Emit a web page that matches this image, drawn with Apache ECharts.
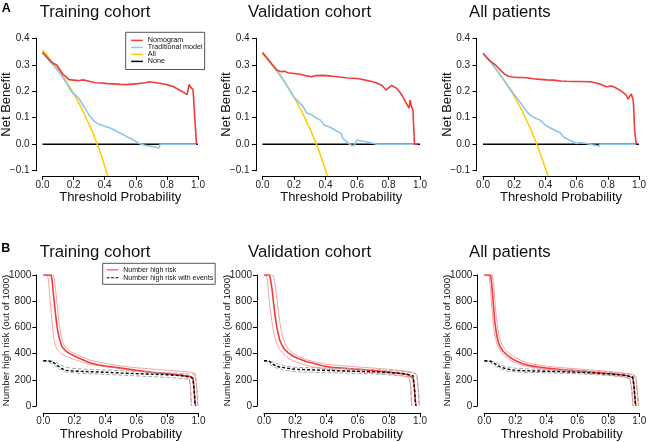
<!DOCTYPE html>
<html><head><meta charset="utf-8">
<script src="https://cdn.jsdelivr.net/npm/echarts@6/dist/echarts.min.js"></script>
<style>html,body{margin:0;padding:0;background:#fff}#c{width:649px;height:442px}</style>
</head><body><div id="c"></div>
<script>
// ---------- labels / ticks ----------
const panelTitles = ['Training cohort', 'Validation cohort', 'All patients'];
const rowLabels = ['A', 'B'];
const xTicks = [0, 0.2, 0.4, 0.6, 0.8, 1.0];
const yTicksA = [-0.1, 0, 0.1, 0.2, 0.3, 0.4];
const yTicksB = [0, 200, 400, 600, 800, 1000];
const legendA = ['Nomogram', 'Traditional model', 'All', 'None'];
const legendB = ['Number high risk', 'Number high risk with events'];

// ---------- A: decision curves ----------
const noneLine = [[0, 0], [1, 0]];

const trainNomogram = [[0,0.347],[0.02,0.335],[0.05,0.314],[0.07,0.305],[0.09,0.300],[0.11,0.283],[0.13,0.265],[0.15,0.255],[0.17,0.244],[0.2,0.242],[0.23,0.240],[0.26,0.243],[0.3,0.238],[0.34,0.232],[0.38,0.231],[0.42,0.229],[0.46,0.228],[0.5,0.226],[0.54,0.225],[0.58,0.227],[0.62,0.229],[0.66,0.232],[0.69,0.236],[0.72,0.233],[0.76,0.229],[0.8,0.225],[0.84,0.218],[0.88,0.205],[0.91,0.195],[0.93,0.187],[0.937,0.184],[0.943,0.226],[0.953,0.215],[0.968,0.207],[0.99,0.0]];
const trainTraditional = [[0,0.345],[0.03,0.325],[0.06,0.305],[0.1,0.277],[0.14,0.244],[0.18,0.205],[0.2,0.19],[0.22,0.182],[0.24,0.167],[0.26,0.148],[0.28,0.129],[0.3,0.11],[0.33,0.088],[0.36,0.076],[0.4,0.068],[0.44,0.06],[0.48,0.048],[0.52,0.036],[0.55,0.026],[0.58,0.018],[0.62,0.003],[0.66,-0.004],[0.7,-0.008],[0.75,-0.014],[0.756,0],[0.99,0]];
const trainAll = [[0,0.355],[0.05,0.32],[0.1,0.282],[0.15,0.24],[0.2,0.192],[0.25,0.137],[0.3,0.075],[0.325,0.041],[0.35,0.003],[0.375,-0.037],[0.4,-0.082],[0.42,-0.12]];

const valNomogram = [[0,0.346],[0.03,0.325],[0.06,0.302],[0.09,0.28],[0.1,0.278],[0.12,0.274],[0.14,0.276],[0.16,0.27],[0.2,0.267],[0.24,0.264],[0.28,0.258],[0.31,0.255],[0.34,0.259],[0.38,0.26],[0.42,0.258],[0.46,0.256],[0.5,0.253],[0.54,0.25],[0.58,0.249],[0.62,0.246],[0.66,0.241],[0.7,0.236],[0.73,0.23],[0.76,0.221],[0.785,0.205],[0.8,0.213],[0.82,0.222],[0.85,0.212],[0.87,0.198],[0.89,0.18],[0.91,0.158],[0.93,0.136],[0.937,0.167],[0.945,0.143],[0.955,0.13],[0.962,0.04],[0.965,0],[0.985,0]];
const valTraditional = [[0,0.346],[0.03,0.325],[0.06,0.302],[0.09,0.28],[0.12,0.255],[0.16,0.216],[0.2,0.178],[0.23,0.16],[0.26,0.14],[0.28,0.118],[0.31,0.112],[0.34,0.1],[0.37,0.09],[0.39,0.073],[0.43,0.064],[0.47,0.05],[0.5,0.04],[0.51,0.022],[0.54,0.006],[0.56,-0.003],[0.58,-0.006],[0.59,-0.004],[0.6,0.016],[0.65,0.01],[0.7,0.004],[0.726,0],[0.965,0]];
const valAll = [[0,0.342],[0.05,0.307],[0.1,0.269],[0.15,0.226],[0.2,0.178],[0.25,0.123],[0.3,0.06],[0.325,0.025],[0.35,-0.012],[0.375,-0.053],[0.4,-0.097],[0.4125,-0.12]];

const allNomogram = [[0,0.343],[0.02,0.33],[0.047,0.314],[0.079,0.3],[0.1,0.287],[0.121,0.274],[0.142,0.263],[0.164,0.257],[0.19,0.254],[0.217,0.252],[0.25,0.252],[0.281,0.251],[0.32,0.247],[0.366,0.245],[0.41,0.243],[0.451,0.242],[0.5,0.239],[0.536,0.238],[0.58,0.237],[0.62,0.237],[0.685,0.236],[0.72,0.232],[0.749,0.227],[0.77,0.222],[0.79,0.217],[0.823,0.22],[0.85,0.213],[0.877,0.204],[0.9,0.195],[0.919,0.185],[0.93,0.17],[0.94,0.18],[0.951,0.19],[0.962,0.167],[0.966,0.14],[0.972,0.05],[0.983,0]];
const allTraditional = [[0,0.343],[0.03,0.322],[0.057,0.305],[0.1,0.27],[0.15,0.228],[0.2,0.188],[0.23,0.165],[0.26,0.141],[0.28,0.124],[0.302,0.11],[0.33,0.1],[0.366,0.091],[0.39,0.078],[0.408,0.069],[0.43,0.062],[0.46,0.053],[0.494,0.043],[0.515,0.028],[0.557,0.015],[0.6,0.003],[0.62,0.006],[0.664,0.003],[0.7,-0.002],[0.728,-0.005],[0.745,-0.008],[0.748,0],[0.98,0]];
const allAll = [[0,0.345],[0.05,0.31],[0.1,0.272],[0.15,0.229],[0.2,0.181],[0.25,0.127],[0.3,0.064],[0.325,0.03],[0.35,-0.008],[0.375,-0.048],[0.4,-0.092],[0.418,-0.12]];

// ---------- B: clinical impact curves ----------
const trainHigh = [[0,1000],[0.05,1000],[0.055,975],[0.06,920],[0.07,800],[0.08,690],[0.09,590],[0.1,530],[0.11,490],[0.12,455],[0.14,425],[0.17,400],[0.2,382],[0.25,355],[0.3,330],[0.35,315],[0.4,305],[0.5,290],[0.6,272],[0.7,258],[0.8,247],[0.9,234],[0.95,224],[0.965,212],[0.972,120],[0.978,20],[0.982,0]];
const trainHighUp = [[0,1000],[0.064,1000],[0.07,980],[0.08,880],[0.09,760],[0.1,650],[0.11,560],[0.12,505],[0.13,470],[0.15,440],[0.18,412],[0.22,390],[0.27,365],[0.3,350],[0.4,325],[0.5,305],[0.6,292],[0.7,282],[0.8,272],[0.9,263],[0.95,258],[0.98,248],[0.99,120],[0.996,0]];
const trainHighLo = [[0,1000],[0.028,1000],[0.035,940],[0.045,800],[0.055,660],[0.065,540],[0.075,470],[0.09,430],[0.12,395],[0.16,372],[0.2,355],[0.25,335],[0.3,318],[0.4,300],[0.5,285],[0.6,270],[0.7,255],[0.8,244],[0.9,230],[0.94,212],[0.948,150],[0.953,20],[0.956,0]];
const trainEvents = [[0,345],[0.03,345],[0.05,340],[0.07,328],[0.09,310],[0.11,293],[0.13,280],[0.15,272],[0.2,266],[0.3,262],[0.4,258],[0.5,252],[0.6,247],[0.7,243],[0.8,238],[0.9,230],[0.95,222],[0.965,205],[0.972,120],[0.978,20],[0.982,0]];
const trainEventsUp = [[0,345],[0.05,344],[0.08,335],[0.11,315],[0.14,298],[0.18,288],[0.25,282],[0.35,277],[0.5,270],[0.6,264],[0.7,258],[0.8,253],[0.9,247],[0.96,244],[0.98,235],[0.99,120],[0.996,0]];
const trainEventsLo = [[0,345],[0.03,340],[0.06,320],[0.09,295],[0.12,272],[0.15,258],[0.2,252],[0.3,247],[0.4,242],[0.5,236],[0.6,230],[0.7,224],[0.8,218],[0.9,210],[0.94,204],[0.948,150],[0.953,20],[0.956,0]];

const valHigh = [[0,1000],[0.034,1000],[0.04,980],[0.053,880],[0.06,800],[0.07,700],[0.08,615],[0.092,546],[0.1,505],[0.113,470],[0.13,435],[0.156,405],[0.19,378],[0.22,362],[0.27,340],[0.327,323],[0.38,305],[0.434,295],[0.54,285],[0.647,277],[0.754,264],[0.86,251],[0.925,238],[0.955,213],[0.963,150],[0.97,40],[0.974,0]];
const valHighUp = [[0,1000],[0.06,1000],[0.068,960],[0.08,850],[0.09,740],[0.1,650],[0.11,580],[0.12,525],[0.135,475],[0.15,445],[0.18,405],[0.22,378],[0.27,355],[0.33,336],[0.4,318],[0.5,307],[0.6,298],[0.7,290],[0.8,280],[0.9,268],[0.95,258],[0.98,240],[0.99,120],[0.996,0]];
const valHighLo = [[0,1000],[0.015,1000],[0.022,950],[0.03,850],[0.04,740],[0.05,650],[0.06,580],[0.07,520],[0.085,470],[0.1,432],[0.13,390],[0.16,362],[0.2,338],[0.25,318],[0.3,302],[0.4,282],[0.5,270],[0.6,262],[0.7,253],[0.8,243],[0.88,232],[0.93,218],[0.94,160],[0.945,40],[0.948,0]];
const valEvents = [[0,345],[0.03,345],[0.045,330],[0.06,318],[0.08,305],[0.1,298],[0.15,288],[0.2,280],[0.3,276],[0.4,272],[0.5,268],[0.6,265],[0.7,262],[0.8,256],[0.9,246],[0.955,232],[0.963,160],[0.97,40],[0.974,0]];
const valEventsUp = [[0,345],[0.04,342],[0.07,330],[0.1,318],[0.15,302],[0.2,295],[0.3,292],[0.4,290],[0.5,286],[0.6,282],[0.7,278],[0.8,272],[0.9,263],[0.96,252],[0.98,235],[0.99,100],[0.996,0]];
const valEventsLo = [[0,345],[0.02,335],[0.04,315],[0.07,295],[0.1,282],[0.13,272],[0.2,262],[0.3,258],[0.4,255],[0.5,252],[0.6,249],[0.7,245],[0.8,238],[0.88,230],[0.93,220],[0.94,160],[0.945,40],[0.948,0]];

const allHigh = [[0,1000],[0.04,1000],[0.048,930],[0.058,780],[0.068,640],[0.08,540],[0.09,490],[0.1,456],[0.12,420],[0.144,392],[0.17,368],[0.21,341],[0.25,322],[0.295,308],[0.35,298],[0.4,290],[0.51,277],[0.617,269],[0.725,256],[0.832,246],[0.918,233],[0.958,215],[0.966,150],[0.973,40],[0.978,0]];
const allHighUp = [[0,1000],[0.052,1000],[0.06,930],[0.07,780],[0.08,650],[0.092,550],[0.103,500],[0.115,465],[0.135,432],[0.16,402],[0.19,378],[0.23,352],[0.27,333],[0.32,318],[0.4,303],[0.5,292],[0.6,284],[0.7,274],[0.8,264],[0.9,252],[0.96,240],[0.978,225],[0.99,80],[0.996,0]];
const allHighLo = [[0,1000],[0.03,1000],[0.037,930],[0.047,780],[0.057,640],[0.068,540],[0.08,480],[0.09,447],[0.11,410],[0.13,382],[0.16,356],[0.2,330],[0.25,310],[0.3,297],[0.4,280],[0.5,268],[0.6,258],[0.7,247],[0.8,237],[0.9,224],[0.94,208],[0.952,120],[0.958,20],[0.961,0]];
const allEvents = [[0,345],[0.04,342],[0.06,330],[0.08,312],[0.1,300],[0.13,288],[0.16,280],[0.2,272],[0.3,268],[0.4,265],[0.5,262],[0.6,258],[0.7,253],[0.8,245],[0.9,235],[0.958,222],[0.966,150],[0.973,40],[0.978,0]];
const allEventsUp = [[0,345],[0.05,342],[0.08,328],[0.11,312],[0.15,298],[0.2,288],[0.3,282],[0.4,278],[0.5,274],[0.6,270],[0.7,265],[0.8,258],[0.9,248],[0.96,240],[0.98,200],[0.99,60],[0.996,0]];
const allEventsLo = [[0,345],[0.03,338],[0.05,322],[0.08,298],[0.11,280],[0.14,268],[0.2,260],[0.3,256],[0.4,253],[0.5,250],[0.6,246],[0.7,240],[0.8,233],[0.9,222],[0.94,208],[0.952,120],[0.958,20],[0.961,0]];

// ---------- build ----------
const FONT = "'Liberation Sans', Arial, Helvetica, sans-serif";
const RED = '#f03c3c', RED_LIGHT = '#f7a3a3', BLUE = '#8cc6ec', GOLD = '#ffcc00', GREY = '#a8a8a8';
const DASH_ICON = 'path://M0 0H3V1H0Z M4.5 0H7.5V1H4.5Z M9 0H12V1H9Z';

const dcaSets = [
  {nom: trainNomogram, trad: trainTraditional, all: trainAll},
  {nom: valNomogram, trad: valTraditional, all: valAll},
  {nom: allNomogram, trad: allTraditional, all: allAll}
];
const cicSets = [
  {h: trainHigh, hu: trainHighUp, hl: trainHighLo, e: trainEvents, eu: trainEventsUp, el: trainEventsLo},
  {h: valHigh, hu: valHighUp, hl: valHighLo, e: valEvents, eu: valEventsUp, el: valEventsLo},
  {h: allHigh, hu: allHighUp, hl: allHighLo, e: allEvents, eu: allEventsUp, el: allEventsLo}
];

const gridA = [{left:42.5, width:155.5}, {left:262.5, width:157.5}, {left:483, width:156}];
const gridB = [{left:43.3, width:155.2}, {left:264, width:156}, {left:484.3, width:155}];
const titleLeft = [39.7, 248, 469];

const grids = [], xAxes = [], yAxes = [], series = [], titles = [];
const fmt1 = v => (v < 0 ? '\u2212' : '') + Math.abs(v).toFixed(1);

function addAxes(idx, yTicks, yName, yNameSize, yNameGap, yMargin, xOffset, yOffset, xMargin, xNameGap, yFmt) {
  xAxes.push({
    type: 'value', gridIndex: idx, min: xTicks[0], max: xTicks[xTicks.length - 1],
    interval: xTicks[1] - xTicks[0], offset: xOffset,
    axisLine: {show: true, onZero: false, lineStyle: {color: '#000', width: 1}},
    axisTick: {show: true, length: 4, lineStyle: {color: '#000', width: 1}},
    axisLabel: {fontSize: 10, color: '#222', margin: xMargin, formatter: fmt1, fontFamily: FONT},
    splitLine: {show: false},
    name: 'Threshold Probability', nameLocation: 'middle', nameGap: xNameGap, nameMoveOverlap: false,
    nameTextStyle: {fontSize: 13, color: '#111', fontFamily: FONT}
  });
  yAxes.push({
    type: 'value', gridIndex: idx, min: yTicks[0], max: yTicks[yTicks.length - 1],
    interval: yTicks[1] - yTicks[0], offset: yOffset,
    axisLine: {show: true, onZero: false, lineStyle: {color: '#000', width: 1}},
    axisTick: {show: true, length: 4, lineStyle: {color: '#000', width: 1}},
    axisLabel: {fontSize: 10, color: '#222', margin: yMargin, formatter: yFmt, fontFamily: FONT},
    splitLine: {show: false},
    name: yName, nameLocation: 'middle', nameGap: yNameGap, nameMoveOverlap: false,
    nameTextStyle: {fontSize: yNameSize, color: '#111', fontFamily: FONT}
  });
}

function line(idx, name, data, color, width, opts) {
  return Object.assign({
    type: 'line', name: name, xAxisIndex: idx, yAxisIndex: idx, data: data,
    showSymbol: false, symbol: 'none', animation: false, silent: true,
    lineStyle: {color: color, width: width}, itemStyle: {color: color}
  }, opts || {});
}

// Row A
for (let p = 0; p < 3; p++) {
  const idx = p;
  grids.push({left: gridA[p].left, width: gridA[p].width, top: 38.3, height: 132.4, containLabel: false, outerBoundsMode: 'none'});
  addAxes(idx, yTicksA, 'Net Benefit', 13, 23, 6.4, 5.2, 6.5, 4.5, 14.6, fmt1);
  const d = dcaSets[p];
  series.push(line(idx, 'None', noneLine, '#000', 1.5));
  series.push(line(idx, 'All', d.all, GOLD, 1.5, {clip: false}));
  series.push(line(idx, 'Traditional model', d.trad, BLUE, 1.6));
  series.push(line(idx, 'Nomogram', d.nom, RED, 1.6));
  titles.push({text: panelTitles[p], left: titleLeft[p], top: 4.1, padding: 0,
    textStyle: {fontSize: 16.7, fontWeight: 'normal', color: '#111', fontFamily: FONT}});
}
// Row B
for (let p = 0; p < 3; p++) {
  const idx = 3 + p;
  grids.push({left: gridB[p].left, width: gridB[p].width, top: 275, height: 131, containLabel: false, outerBoundsMode: 'none'});
  addAxes(idx, yTicksB, 'Number high risk (out of 1000)', 9.75, 24.8, 5, 7, 7, 2.8, 14.5, v => String(v));
  const d = cicSets[p];
  series.push(line(idx, 'Number high risk (upper)', d.hu, RED_LIGHT, 1));
  series.push(line(idx, 'Number high risk (lower)', d.hl, RED_LIGHT, 1));
  series.push(line(idx, 'Number high risk', d.h, RED, 1.6));
  series.push(line(idx, 'Events (upper)', d.eu, GREY, 1, {lineStyle: {color: GREY, width: 1, type: [4, 2]}}));
  series.push(line(idx, 'Events (lower)', d.el, GREY, 1, {lineStyle: {color: GREY, width: 1, type: [4, 2]}}));
  series.push(line(idx, 'Number high risk with events', d.e, '#000', 1.4, {lineStyle: {color: '#000', width: 1.4, type: [3, 2]}}));
  titles.push({text: panelTitles[p], left: titleLeft[p], top: 244.3, padding: 0,
    textStyle: {fontSize: 16.7, fontWeight: 'normal', color: '#111', fontFamily: FONT}});
}
titles.push({text: rowLabels[0], left: 1.7, top: 2.5, padding: 0, textStyle: {fontSize: 12.5, fontWeight: 'bold', color: '#000', fontFamily: FONT}});
titles.push({text: rowLabels[1], left: 1.2, top: 241.9, padding: 0, textStyle: {fontSize: 12.5, fontWeight: 'bold', color: '#000', fontFamily: FONT}});

const legendAColors = [RED, BLUE, GOLD, '#000'];
const option = {
  animation: false,
  backgroundColor: '#fff',
  textStyle: {fontFamily: FONT},
  title: titles,
  grid: grids, xAxis: xAxes, yAxis: yAxes, series: series,
  legend: [
    {data: legendA.map((n, i) => ({name: n, icon: 'rect', itemStyle: {color: legendAColors[i], borderWidth: 0}})),
     orient: 'vertical', left: 125.7, top: 32.3, padding: [4.6, 2, 4.6, 5.5],
     itemWidth: 11.6, itemHeight: 1.5, itemGap: 0, selectedMode: false,
     borderColor: '#555', borderWidth: 1, borderRadius: 0,
     textStyle: {fontSize: 7.2, lineHeight: 6.3, height: 6.3, color: '#111', fontFamily: FONT, padding: 0}},
    {data: [
       {name: legendB[0], icon: 'rect', itemStyle: {color: '#f57f7f', borderWidth: 0}},
       {name: legendB[1], icon: DASH_ICON, itemStyle: {color: '#000', borderWidth: 0}}
     ],
     orient: 'vertical', left: 102.7, top: 263.3, padding: [2.5, 2, 2.5, 4],
     itemWidth: 11.6, itemHeight: 1.6, itemGap: 0, selectedMode: false,
     borderColor: '#555', borderWidth: 1, borderRadius: 0,
     textStyle: {fontSize: 7, lineHeight: 8, height: 8, color: '#111', fontFamily: FONT, padding: 0}}
  ]
};
const chart = echarts.init(document.getElementById('c'), null, {renderer: 'canvas'});
chart.setOption(option);
</script></body></html>
